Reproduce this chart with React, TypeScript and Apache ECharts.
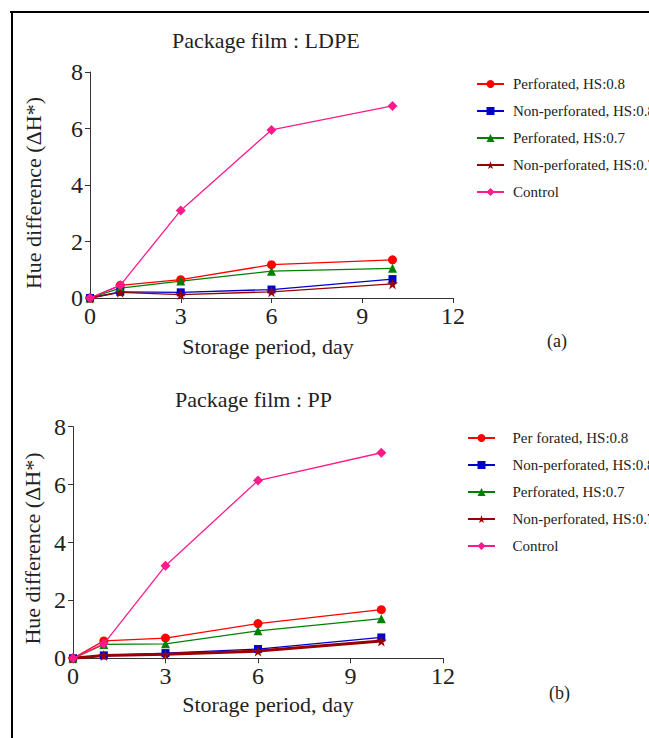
import React, { useEffect, useRef } from "react";
import * as echarts from "echarts";

const days = [0, 1, 3, 6, 10];

const ldpePerf08 = [0, 0.45, 0.65, 1.18, 1.35];
const ldpeNon08 = [0, 0.22, 0.2, 0.3, 0.67];
const ldpePerf07 = [0, 0.35, 0.6, 0.95, 1.05];
const ldpeNon07 = [0, 0.2, 0.12, 0.22, 0.5];
const ldpeControl = [0, 0.45, 3.1, 5.95, 6.8];

const ppPerf08 = [0, 0.6, 0.7, 1.2, 1.68];
const ppNon08 = [0, 0.1, 0.18, 0.32, 0.72];
const ppPerf07 = [0, 0.48, 0.5, 0.95, 1.37];
const ppNon07 = [0, 0.1, 0.14, 0.25, 0.6];
const ppControl = [0, 0.5, 3.2, 6.14, 7.1];

const ldpeNames = [
  "Perforated, HS:0.8",
  "Non-perforated, HS:0.8",
  "Perforated, HS:0.7",
  "Non-perforated, HS:0.7",
  "Control",
];
const ppNames = [
  "Per forated, HS:0.8",
  "Non-perforated, HS:0.8",
  "Perforated, HS:0.7",
  "Non-perforated, HS:0.7",
  "Control",
];

const FONT = "'Liberation Serif', 'Times New Roman', serif";
const STAR =
  "path://M50,0 L61,35 L98,35 L68,57 L79,91 L50,70 L21,91 L32,57 L2,35 L39,35 Z";
const colors = ["#ff0000", "#0000cc", "#008000", "#990000", "#ff1a8c"];
const symbols = ["circle", "rect", "triangle", STAR, "diamond"];
const symbolSizes = [9, 8, 9, 11, 10];

function buildOption(cfg: any) {
  const series = cfg.data.map((vals: number[], i: number) => ({
    name: cfg.names[i],
    type: "line",
    data: days.map((d, j) => [d, vals[j]]),
    symbol: symbols[i],
    symbolSize: symbolSizes[i],
    showAllSymbol: true,
    itemStyle: { color: colors[i] },
    lineStyle: { color: colors[i], width: cfg.widths[i] },
    z: 2 + (i === 4 ? 3 : 0),
  }));
  const axisCommon = {
    axisLine: { show: true, lineStyle: { color: "#333", width: 1 } },
    axisTick: { show: true, inside: false, length: 5, lineStyle: { color: "#333" } },
    splitLine: { show: false },
    axisLabel: { fontFamily: FONT, fontSize: 24, color: "#222" },
  };
  return {
    animation: false,
    backgroundColor: "#ffffff",
    title: {
      text: cfg.title,
      left: cfg.titleX,
      top: cfg.titleY,
      textStyle: { fontFamily: FONT, fontSize: 22, fontWeight: "normal", color: "#222" },
    },
    grid: { left: cfg.gridLeft, right: cfg.gridRight, top: cfg.gridTop, height: cfg.gridHeight },
    legend: {
      data: cfg.names,
      orient: "vertical",
      left: cfg.legendLeft,
      top: cfg.legendTop,
      itemWidth: 27,
      itemHeight: 10,
      itemGap: 12,
      textStyle: {
        fontFamily: FONT,
        fontSize: 15,
        color: "#222",
        padding: [0, 0, 0, cfg.legendTextPad],
      },
    },
    xAxis: {
      type: "value",
      min: 0,
      max: 12,
      interval: 3,
      name: "Storage period, day",
      nameLocation: "middle",
      nameGap: cfg.xNameGap,
      nameTextStyle: { fontFamily: FONT, fontSize: 22, color: "#222", padding: cfg.xNamePad },
      ...axisCommon,
      axisLabel: { ...axisCommon.axisLabel, margin: 6 },
    },
    yAxis: {
      type: "value",
      min: 0,
      max: 8,
      interval: 2,
      name: "Hue difference (\u0394H*)",
      nameLocation: "middle",
      nameRotate: 90,
      nameGap: cfg.yNameGap,
      nameTextStyle: { fontFamily: FONT, fontSize: 22, color: "#222", padding: cfg.yNamePad },
      ...axisCommon,
      axisLabel: { ...axisCommon.axisLabel, margin: 7 },
    },
    graphic: [
      ...cfg.frame,
      {
        type: "text",
        left: cfg.tagX,
        top: cfg.tagY,
        style: { text: cfg.tag, fontFamily: FONT, fontSize: 18, fill: "#222" },
      },
    ],
    series,
  };
}

const topCfg = {
  title: "Package film : LDPE",
  titleX: 167,
  titleY: 24,
  names: ldpeNames,
  data: [ldpePerf08, ldpeNon08, ldpePerf07, ldpeNon07, ldpeControl],
  widths: [1.3, 1.3, 1.3, 1.3, 1.3],
  gridLeft: 90,
  gridRight: 196,
  gridTop: 72,
  gridHeight: 226,
  legendLeft: 471,
  legendTop: 71.5,
  legendTextPad: 4,
  xNameGap: 37,
  xNamePad: [0, 7, 0, 0],
  yNameGap: 46,
  yNamePad: [0, 16, 0, 0],
  tag: "(a)",
  tagX: 547,
  tagY: 332,
  frame: [
    { type: "line", shape: { x1: 10, y1: 12, x2: 649, y2: 12 }, style: { stroke: "#000", lineWidth: 2 } },
    { type: "line", shape: { x1: 12, y1: 11, x2: 12, y2: 369 }, style: { stroke: "#000", lineWidth: 2 } },
  ],
};

const bottomCfg = {
  title: "Package film : PP",
  titleX: 170,
  titleY: 14,
  names: ppNames,
  data: [ppPerf08, ppNon08, ppPerf07, ppNon07, ppControl],
  widths: [1.3, 1.3, 1.3, 3, 1.3],
  gridLeft: 73,
  gridRight: 206,
  gridTop: 57.7,
  gridHeight: 231.6,
  legendLeft: 462,
  legendTop: 56.5,
  legendTextPad: 12.5,
  xNameGap: 28,
  xNamePad: [0, 0, 0, 20],
  yNameGap: 29,
  yNamePad: [0, 12, 0, 0],
  tag: "(b)",
  tagX: 549,
  tagY: 315,
  frame: [
    { type: "line", shape: { x1: 12, y1: 0, x2: 12, y2: 369 }, style: { stroke: "#000", lineWidth: 2 } },
  ],
};

function Chart({ cfg }: { cfg: any }) {
  const ref = useRef<HTMLDivElement>(null);
  useEffect(() => {
    if (!ref.current) return;
    const chart = echarts.init(ref.current, undefined, { renderer: "svg" });
    chart.setOption(buildOption(cfg));
    return () => chart.dispose();
  }, [cfg]);
  return <div ref={ref} style={{ width: 649, height: 369 }} />;
}

export default function App() {
  return (
    <div
      style={{
        position: "absolute",
        left: 0,
        top: 0,
        width: 649,
        height: 738,
        background: "#fff",
        overflow: "hidden",
      }}
    >
      <Chart cfg={topCfg} />
      <Chart cfg={bottomCfg} />
    </div>
  );
}
